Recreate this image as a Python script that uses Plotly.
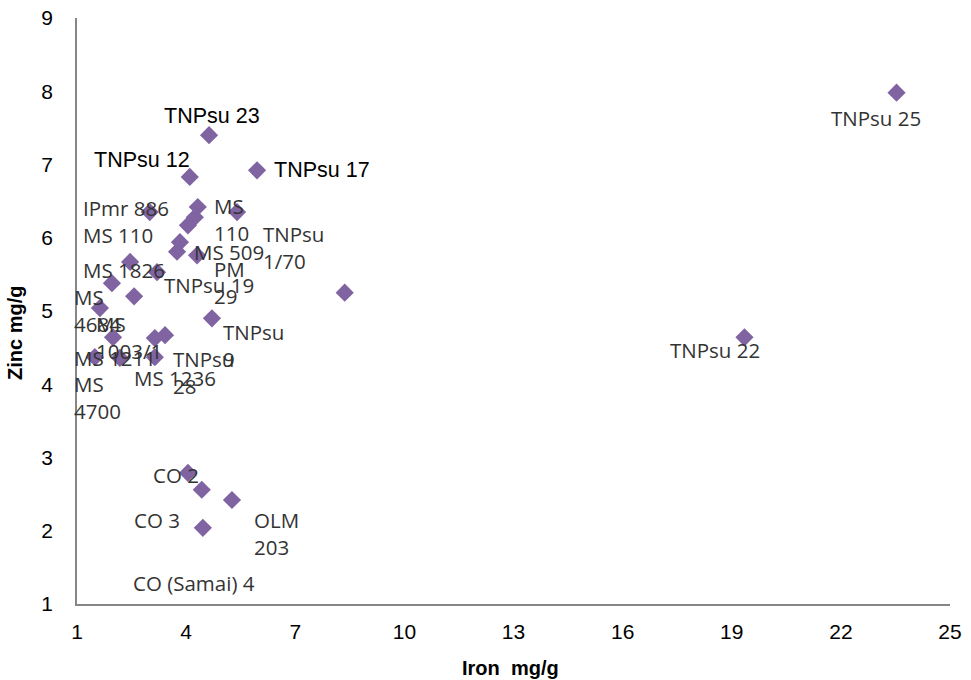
import plotly.graph_objects as go

# ---- data ----
GENOTYPES = [
    "TNPsu 25", "TNPsu 22", "TNPsu 23", "TNPsu 12", "TNPsu 17",
    "IPmr 886", "MS<br>110", "TNPsu<br>1/70", "", "MS 110",
    "PM<br>29", "", "MS 509", "MS 1826", "TNPsu 19",
    "", "", "", "MS<br>4684", "TNPsu<br>9",
    "MS<br>1003/1", "TNPsu<br>28", "", "MS 1211", "MS<br>4700",
    "MS 1236", "CO 2", "CO 3", "OLM<br>203", "CO (Samai) 4",
]
IRON = [
    23.53, 19.35, 4.63, 4.10, 5.95,
    3.00, 4.32, 5.40, 4.24, 4.05,
    3.83, 3.75, 4.30, 2.46, 3.20,
    1.96, 2.57, 8.36, 1.63, 4.71,
    1.99, 3.14, 3.42, 1.49, 2.18,
    3.14, 4.05, 4.43, 5.26, 4.46,
]
ZINC = [
    7.98, 4.64, 7.40, 6.83, 6.92,
    6.35, 6.42, 6.35, 6.28, 6.17,
    5.94, 5.81, 5.76, 5.67, 5.53,
    5.38, 5.20, 5.25, 5.04, 4.90,
    4.64, 4.63, 4.67, 4.37, 4.36,
    4.37, 2.79, 2.56, 2.42, 2.04,
]
X_TICKS = [1, 4, 7, 10, 13, 16, 19, 22, 25]
Y_TICKS = [1, 2, 3, 4, 5, 6, 7, 8, 9]
X_TITLE = "Iron  mg/g"
Y_TITLE = "Zinc mg/g"

# ---- label placement (pixel shifts from each point), style ----
LABEL_SHIFT = [
    (-67, -25), (-75, -13), (-46, 19), (-97, 17), (16, 0),
    (-68, 4), (15, -13), (25, -35), None, (-106, -10),
    (33, -40), None, (-4, 3), (-48, -8), (6, -13),
    None, None, None, (-27, -2), (10, -27),
    (-18, 0), (17, -34), None, (-22, -1), (-47, -40),
    (-22, -21), (-36, -2), (-69, -30), (21, -34), (-71, -55),
]
ARIAL_LABELS = {"TNPsu 23", "TNPsu 12", "TNPsu 17"}
PURPLE = "#8064A2"
AXIS_GREY = "#868686"
LABEL_FONT = "Open Sans, DejaVu Sans, sans-serif"
ARIAL_FONT = "Liberation Sans, Arial, sans-serif"
NARROW_FONT = "Liberation Sans Narrow, Arial Narrow, Liberation Sans, sans-serif"

fig = go.Figure()
fig.add_trace(go.Scatter(
    x=IRON, y=ZINC, mode="markers",
    marker=dict(symbol="diamond", size=14, color=PURPLE, line=dict(width=0)),
    hovertext=GENOTYPES, hoverinfo="text+x+y", showlegend=False,
))

annotations = []
for name, xv, yv, shift in zip(GENOTYPES, IRON, ZINC, LABEL_SHIFT):
    if not name or shift is None:
        continue
    arial = name in ARIAL_LABELS
    annotations.append(dict(
        x=xv, y=yv, xref="x", yref="y", text=name, showarrow=False,
        xanchor="left", yanchor="middle", align="left",
        xshift=shift[0], yshift=shift[1], borderpad=0,
        font=dict(family=ARIAL_FONT if arial else LABEL_FONT,
                  size=21.5 if arial else 20.5,
                  color="#000000" if arial else "#333333"),
    ))

# axis titles
annotations.append(dict(
    text="<b>" + X_TITLE + "</b>", xref="paper", yref="paper",
    x=0.496, y=-0.109, xanchor="center", yanchor="middle", showarrow=False,
    font=dict(family=NARROW_FONT, size=20, color="#000000"),
))
annotations.append(dict(
    text="<b>" + Y_TITLE + "</b>", xref="paper", yref="paper",
    x=-0.071, y=0.4625, xanchor="center", yanchor="middle", showarrow=False,
    textangle=-90,
    font=dict(family=NARROW_FONT, size=20, color="#000000"),
))

fig.update_layout(
    width=971, height=680,
    margin=dict(l=77, r=21, t=18, b=76, autoexpand=False),
    paper_bgcolor="white", plot_bgcolor="white",
    annotations=annotations,
    xaxis=dict(
        range=[1, 25], tickvals=X_TICKS, ticktext=[str(v) for v in X_TICKS],
        showgrid=False, zeroline=False, showline=True, automargin=False,
        linecolor=AXIS_GREY, linewidth=1.5, ticklabeloverflow="allow",
        ticks="outside", ticklen=8, tickcolor="rgba(0,0,0,0)",
        tickfont=dict(family=NARROW_FONT, size=21, color="#000000"),
    ),
    yaxis=dict(
        range=[1, 9], tickvals=Y_TICKS, ticktext=[str(v) for v in Y_TICKS],
        showgrid=False, zeroline=False, showline=True, automargin=False,
        linecolor=AXIS_GREY, linewidth=1.5, ticklabeloverflow="allow",
        ticks="outside", ticklen=18, tickcolor="rgba(0,0,0,0)",
        tickfont=dict(family=NARROW_FONT, size=21, color="#000000"),
    ),
)

# remove the default 8 px page margin so the figure fills the window
fig.write_html(
    "out.html",
    config={"displayModeBar": False},
    post_script="document.body.style.margin='0';document.body.style.padding='0';",
)
